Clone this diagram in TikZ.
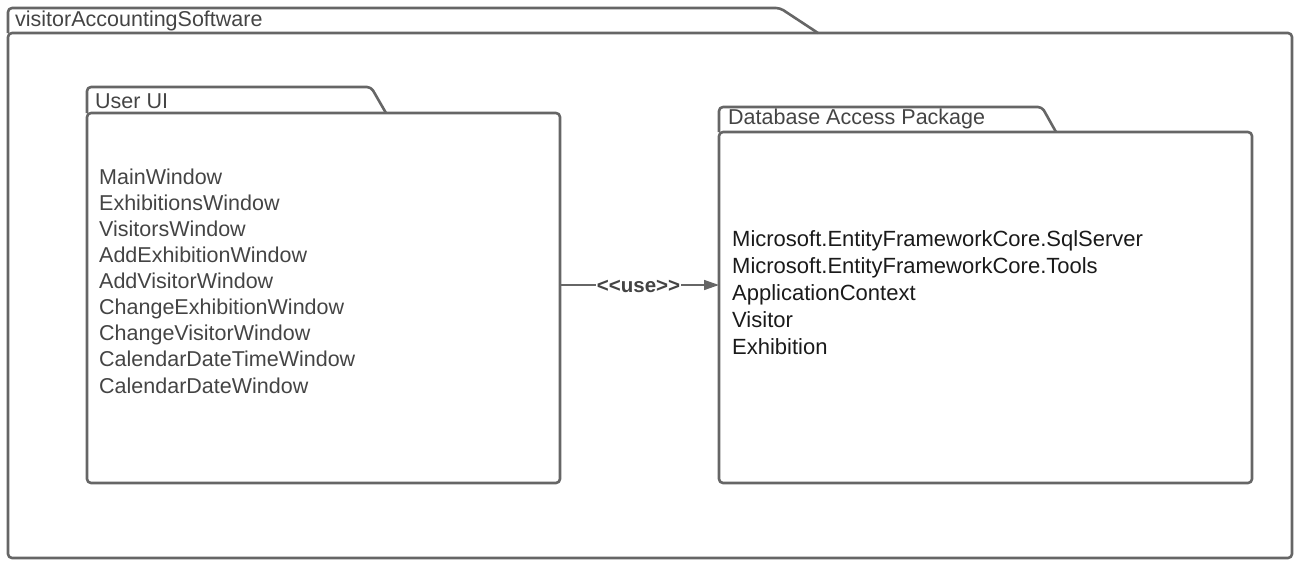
\documentclass[tikz,border=0pt]{standalone}
\usepackage{fontspec}
\setmainfont{Liberation Sans}
\usetikzlibrary{arrows.meta}
\definecolor{linegray}{HTML}{666666}
\definecolor{txtgray}{HTML}{444444}
\definecolor{txtdark}{HTML}{1A1A1A}
\tikzset{
  folderline/.style={draw=linegray, line width=2.6pt, rounded corners=4pt, line join=round},
  tabtext/.style={anchor=west, inner sep=0pt, font=\fontsize{21.5}{24}\selectfont, text=txtgray},
  itemtext/.style={anchor=north west, inner sep=0pt, align=left},
  uselabel/.style={inner sep=1pt, font=\bfseries\fontsize{20.5}{22}\selectfont, text=txtgray, fill=white}
}
\begin{document}
\begin{tikzpicture}[x=1pt,y=-1pt]
\useasboundingbox (0,0) rectangle (1299,560);
% outer package
\draw[folderline] (8,33) -- (8,8) -- (780,8) -- (818,33);
\draw[folderline] (8,33) rectangle (1292,558);
\node[tabtext] (outerT) at (15,21) {visitorAccountingSoftware};
% User UI
\draw[folderline] (87,113) -- (87,87) -- (371,87) -- (386,113);
\draw[folderline] (87,113) rectangle (560,483);
\node[tabtext] (uiT) at (95,101) {User UI};
\coordinate (uiR) at (560,285);
% Database
\draw[folderline] (719,132) -- (719,107) -- (1042,107) -- (1056,132);
\draw[folderline] (719,132) rectangle (1252,483);
\node[tabtext] (dbT) at (728,119) {Database Access Package};
\coordinate (dbL) at (719,285);
% items
\node[itemtext, text=txtgray, font=\fontsize{21.5}{26.1}\selectfont] (uiItems) at (99,168.5) {MainWindow\\ExhibitionsWindow\\VisitorsWindow\\AddExhibitionWindow\\AddVisitorWindow\\ChangeExhibitionWindow\\ChangeVisitorWindow\\CalendarDateTimeWindow\\CalendarDateWindow};
\node[itemtext, text=txtdark, font=\fontsize{22}{27}\selectfont] (dbItems) at (732,230) {Microsoft.EntityFrameworkCore.SqlServer\\Microsoft.EntityFrameworkCore.Tools\\ApplicationContext\\Visitor\\Exhibition};
% connector
\draw[draw=linegray, line width=1.5pt, -{Triangle[length=15pt,width=10pt]}] (uiR) -- node[uselabel, yshift=-1pt, xshift=-1pt] (useL) {{<}{<}use{>}{>}} (dbL);
\end{tikzpicture}
\end{document}
